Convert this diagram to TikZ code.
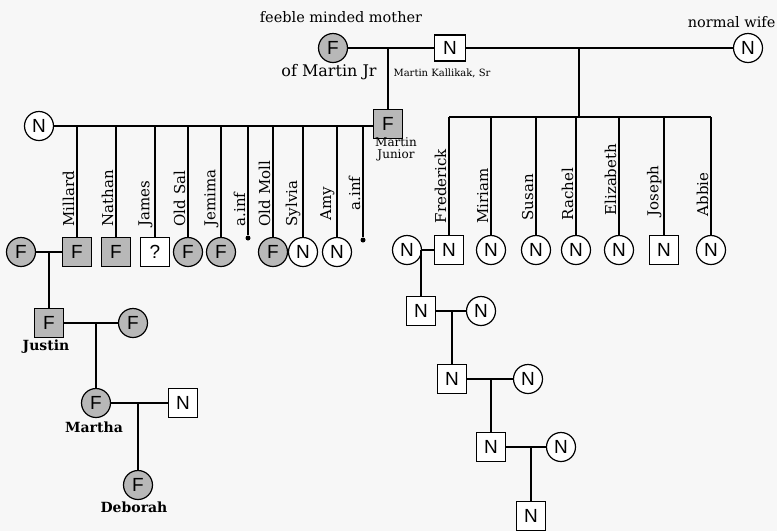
\documentclass[tikz,border=0pt]{standalone}
\usepackage{fontspec}
\setmainfont{DejaVu Serif}
\newfontfamily\sansf{Liberation Sans}
\begin{document}
\begin{tikzpicture}[x=1pt,y=-1pt, line width=1.2pt,
  lbl/.style={font=\fontsize{14.5}{16}\selectfont, inner sep=1pt},
  vl/.style={lbl, font=\fontsize{15}{16}\selectfont, rotate=90, anchor=south west},
  bl/.style={font=\bfseries\fontsize{14}{16}\selectfont, inner sep=1pt},
  pers/.style={draw, line width=1.2pt, inner sep=0pt, font=\sansf\fontsize{19}{19}\selectfont},
  fc/.style={pers, circle, minimum size=29pt, fill=black!28},
  nc/.style={pers, circle, minimum size=29pt, fill=white},
  fsq/.style={pers, rectangle, minimum size=29pt, fill=black!28},
  nsq/.style={pers, rectangle, minimum size=29pt, fill=white},
  dotn/.style={circle, fill=black, inner sep=0pt, minimum size=5pt}]
\fill[black!3] (0,0) rectangle (777,531);
\useasboundingbox (0,0) rectangle (777,531);

% top generation
\node[fc] (mother) at (333,48) {F};
\node[nsq, minimum width=31pt, minimum height=26pt] (sr) at (450,48) {N};
\node[nc] (nwife) at (748,48) {N};
\node[lbl] (tmother) at (341,17) {feeble minded mother};
\node[lbl, font=\fontsize{16}{17}\selectfont] (tofm) at (329,72) {of Martin Jr};
\node[lbl, font=\fontsize{10}{11}\selectfont] (tsr) at (442,73) {Martin Kallikak, Sr};
\node[lbl, anchor=east] (tnw) at (777,22) {normal wife};
\draw (mother) -- (sr);
\draw (sr) -- (nwife);

% Martin Junior
\coordinate (jmj) at (388,48);
\node[fsq] (mj) at (388,124) {F};
\node[lbl, font=\fontsize{12}{12}\selectfont, align=center, inner sep=0pt] (tmj) at (396,149) {Martin\\Junior};
\node[nc] (lw) at (39,126) {N};
\draw (jmj) -- (mj);
\draw (lw) -- (lw -| mj.west);

% children of Martin Junior
\node[fsq] (millard) at (77,252) {F};
\node[fsq] (nathan) at (116,252) {F};
\node[nsq] (james) at (155,252) {?};
\node[fc] (oldsal) at (188,252) {F};
\node[fc] (jemima) at (221,252) {F};
\node[dotn] (inf1) at (248,238) {};
\node[fc] (oldmoll) at (273,252) {F};
\node[nc] (sylvia) at (303,252) {N};
\node[nc] (amy) at (337,252) {N};
\node[dotn] (inf2) at (363,240) {};
\foreach \n/\x in {millard/77,nathan/116,james/155,oldsal/188,jemima/221,inf1/248,oldmoll/273,sylvia/303,amy/337,inf2/363}{
  \coordinate (t\n) at (\x,126);
  \draw (t\n) -- (\n);
}
\node[vl] (lmillard) at (76,228) {Millard};
\node[vl] (lnathan) at (115,228) {Nathan};
\node[vl] (ljames) at (154,228) {James};
\node[vl] (loldsal) at (187,228) {Old Sal};
\node[vl] (ljemima) at (220,228) {Jemima};
\node[vl] (linf1) at (247,228) {a.inf};
\node[vl] (loldmoll) at (272,228) {Old Moll};
\node[vl] (lsylvia) at (302,228) {Sylvia};
\node[vl] (lamy) at (336,222) {Amy};
\node[vl] (linf2) at (362,212) {a.inf};

% Millard's line
\node[fc] (mw) at (21,252) {F};
\draw (mw) -- (millard);
\coordinate (jm) at (49,252);
\node[fsq] (justin) at (49,323) {F};
\draw (jm) -- (justin);
\node[bl] (tjustin) at (46,347) {Justin};
\node[fc] (jw) at (133,323) {F};
\draw (justin) -- (jw);
\coordinate (jj) at (96,323);
\node[fc] (martha) at (96,403) {F};
\draw (jj) -- (martha);
\node[bl] (tmartha) at (94,427) {Martha};
\node[nsq] (mh) at (183,403) {N};
\draw (martha) -- (mh);
\coordinate (jmh) at (138,403);
\node[fc] (deborah) at (138,485) {F};
\draw (jmh) -- (deborah);
\node[bl] (tdeborah) at (134,507) {Deborah};

% children with normal wife
\coordinate (jr) at (579,48);
\coordinate (jrb) at (579,117);
\coordinate (barl) at (449,117);
\coordinate (barr) at (711,117);
\draw (jr) -- (jrb);
\draw (barl) -- (barr);
\node[nsq] (fred) at (449,250) {N};
\node[nc] (miriam) at (491,250) {N};
\node[nc] (susan) at (536,250) {N};
\node[nc] (rachel) at (576,250) {N};
\node[nc] (eliz) at (619,250) {N};
\node[nsq] (joseph) at (664,250) {N};
\node[nc] (abbie) at (711,250) {N};
\foreach \n/\x in {fred/449,miriam/491,susan/536,rachel/576,eliz/619,joseph/664,abbie/711}{
  \coordinate (t\n) at (\x,117);
  \draw (t\n) -- (\n);
}
\node[vl] (lfred) at (448,225) {Frederick};
\node[vl] (lmiriam) at (490,225) {Miriam};
\node[vl] (lsusan) at (535,222) {Susan};
\node[vl] (lrachel) at (575,222) {Rachel};
\node[vl] (leliz) at (618,217) {Elizabeth};
\node[vl] (ljoseph) at (663,218) {Joseph};
\node[vl] (labbie) at (710,218) {Abbie};

% Frederick's line
\node[nc] (fw) at (407,250) {N};
\draw (fw) -- (fred);
\coordinate (jf) at (421,250);
\node[nsq] (g1) at (421,311) {N};
\draw (jf) -- (g1);
\node[nc] (g1w) at (481,311) {N};
\draw (g1) -- (g1w);
\coordinate (jg1) at (452,311);
\node[nsq] (g2) at (452,379) {N};
\draw (jg1) -- (g2);
\node[nc] (g2w) at (528,379) {N};
\draw (g2) -- (g2w);
\coordinate (jg2) at (491,379);
\node[nsq] (g3) at (491,447) {N};
\draw (jg2) -- (g3);
\node[nc] (g3w) at (561,447) {N};
\draw (g3) -- (g3w);
\coordinate (jg3) at (531,447);
\node[nsq] (g4) at (531,516) {N};
\draw (jg3) -- (g4);
\end{tikzpicture}
\end{document}
